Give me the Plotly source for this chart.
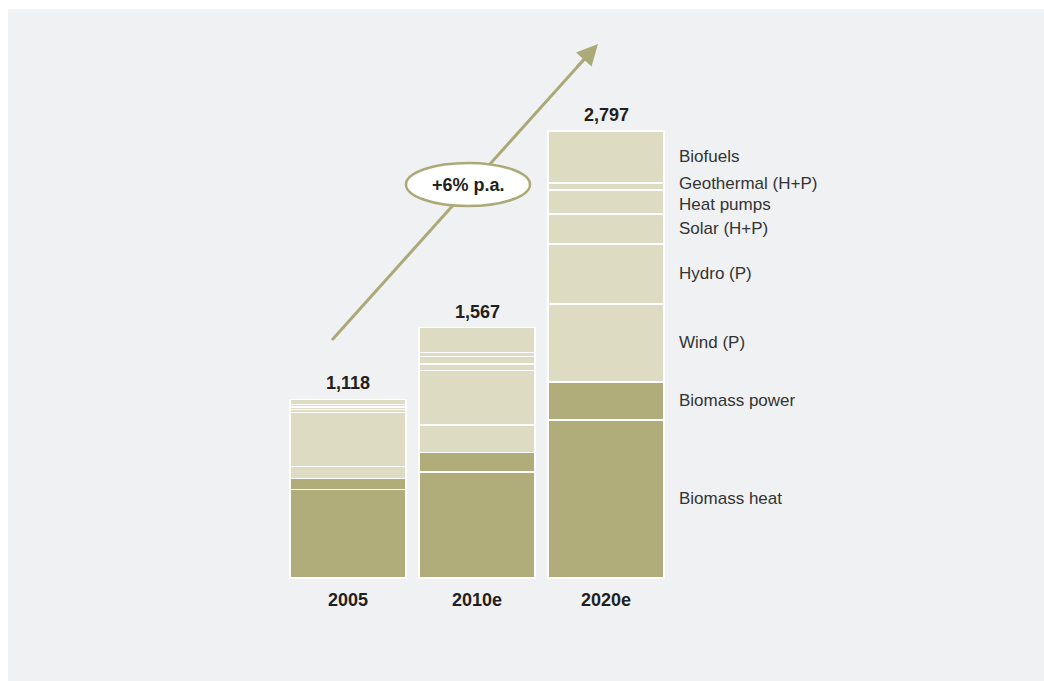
import plotly.graph_objects as go

years = ["2005", "2010e", "2020e"]
totals = [1118, 1567, 2797]
total_labels = ["1,118", "1,567", "2,797"]
# segments, bottom to top
series_names = ["Biomass heat", "Biomass power", "Wind (P)", "Hydro (P)",
                "Solar (H+P)", "Heat pumps", "Geothermal (H+P)", "Biofuels"]
biomass_heat = [554, 663, 989]
biomass_power = [67, 123, 238]
wind = [79, 172, 488]
hydro = [334, 338, 375]
solar = [18, 43, 188]
heat_pumps = [18, 49, 150]
geothermal = [18, 25, 44]
biofuels = [30, 154, 325]
growth_label = "+6% p.a."

series_values = [biomass_heat, biomass_power, wind, hydro, solar, heat_pumps, geothermal, biofuels]
DARK = "#b1ad7b"
LIGHT = "#dddbc2"
colors = [DARK, DARK, LIGHT, LIGHT, LIGHT, LIGHT, LIGHT, LIGHT]
BG = "#f0f1f3"
FONT = "Liberation Sans, Arial, sans-serif"
label_shift = {"Geothermal (H+P)": 3, "Heat pumps": -3}

xs = list(range(len(years)))
BAR_W = 0.9

fig = go.Figure()
for name, vals, col in zip(series_names, series_values, colors):
    fig.add_trace(go.Bar(x=xs, y=vals, name=name, width=BAR_W,
                         marker=dict(color=col, line=dict(color="white", width=1.2)),
                         hoverinfo="name+y"))

annotations = []
for x, t, lab in zip(xs, totals, total_labels):
    annotations.append(dict(x=x, y=t, text=f"<b>{lab}</b>", showarrow=False,
                            xanchor="center", yanchor="bottom", yshift=4,
                            font=dict(family=FONT, size=18, color="#231f20")))
for x, yl in zip(xs, years):
    annotations.append(dict(x=x, y=0, text=f"<b>{yl}</b>", showarrow=False,
                            xanchor="center", yanchor="top", yshift=-10,
                            font=dict(family=FONT, size=18, color="#231f20")))
cum = 0
last = len(years) - 1
for name, vals in zip(series_names, series_values):
    v = vals[last]
    mid = cum + v / 2
    cum += v
    annotations.append(dict(x=last + BAR_W / 2, y=mid, text=name, showarrow=False,
                            xanchor="left", yanchor="middle", xshift=13,
                            yshift=label_shift.get(name, 0),
                            font=dict(family=FONT, size=17, color="#333333")))

# figure is placed at page origin; plot area is the grey panel
FW, FH = 1044, 681
L, T = 8, 9
W, H = FW - L, FH - T
def px(x):
    return (x - L) / W
def py(y):
    return (FH - y) / H

tail = (332, 340)
tip = (598, 44)
ARROW = "#aca979"
shapes = [
    dict(type="line", xref="paper", yref="paper",
         x0=px(tail[0]), y0=py(tail[1]), x1=px(tip[0] - 10), y1=py(tip[1] + 11),
         line=dict(color=ARROW, width=3)),
    dict(type="circle", xref="paper", yref="paper",
         x0=px(406), x1=px(530), y0=py(206), y1=py(163),
         fillcolor="white", line=dict(color=ARROW, width=2.5)),
]
annotations.append(dict(xref="paper", yref="paper", x=px(tip[0]), y=py(tip[1]),
                        ax=-22, ay=24, text="", showarrow=True,
                        arrowhead=2, arrowsize=1.4, arrowwidth=3, arrowcolor=ARROW))
annotations.append(dict(xref="paper", yref="paper", x=px(468), y=py(184.5),
                        text=f"<b>{growth_label}</b>", showarrow=False,
                        xanchor="center", yanchor="middle",
                        font=dict(family=FONT, size=18, color="#231f20")))

px_per_unit_x = 129.0
x0_px = 348.0
zero_px = 578.0
top_px = 131.0
py_per_unit = (zero_px - top_px) / max(totals)

fig.update_layout(
    width=FW, height=FH,
    margin=dict(l=L, r=0, t=T, b=0, pad=0),
    paper_bgcolor="white", plot_bgcolor=BG,
    barmode="stack", showlegend=False,
    xaxis=dict(range=[(L - x0_px) / px_per_unit_x, (FW - x0_px) / px_per_unit_x],
               visible=False, fixedrange=True),
    yaxis=dict(range=[-(FH - zero_px) / py_per_unit, (zero_px - T) / py_per_unit],
               visible=False, fixedrange=True),
    annotations=annotations, shapes=shapes,
    font=dict(family=FONT),
)

fig.write_html("out.html", config={"displayModeBar": False},
               post_script="document.body.style.margin='0';document.body.style.overflow='hidden';")
